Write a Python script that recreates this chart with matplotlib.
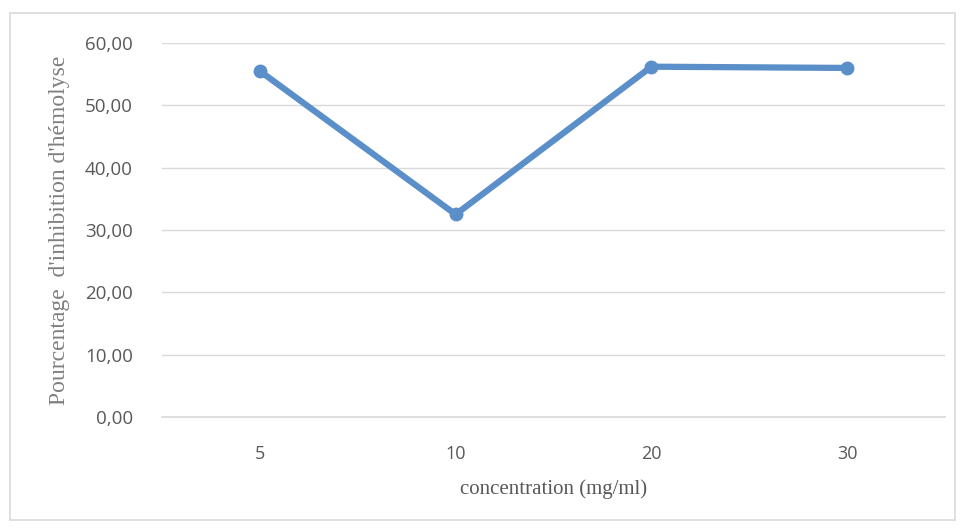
import matplotlib
matplotlib.use("Agg")
import matplotlib.pyplot as plt
from matplotlib.patches import Rectangle

# data
concentrations = ["5", "10", "20", "30"]
inhibition = [55.5, 32.5, 56.2, 56.0]
y_ticks = [0, 10, 20, 30, 40, 50, 60]

fig = plt.figure(figsize=(9.61, 5.28), dpi=100)
fig.patch.set_facecolor("white")

# outer chart frame
fig.patches.append(Rectangle((10 / 961, 1 - 520 / 528), 945 / 961, 507 / 528,
                             transform=fig.transFigure, fill=False,
                             edgecolor="#d9d9d9", linewidth=1.2))

ax = fig.add_axes([162 / 961, 1 - 417 / 528, 783 / 961, 374 / 528])
x = range(len(concentrations))
ax.plot(x, inhibition, color="#5b8fc9", linewidth=4.5, marker="o",
        markersize=9, solid_capstyle="round", solid_joinstyle="round", zorder=3)

ax.set_xlim(-0.5, len(concentrations) - 0.5)
ax.set_ylim(0, 60)
ax.set_yticks(y_ticks)
ax.set_yticklabels([f"{v:.2f}".replace(".", ",") for v in y_ticks],
                   fontsize=13.5, color="#595959", family="Open Sans")
ax.set_xticks(list(x))
ax.set_xticklabels(concentrations, fontsize=13, color="#595959", family="Open Sans")
ax.tick_params(length=0)
ax.tick_params(axis="x", pad=20)
ax.tick_params(axis="y", pad=21)

ax.grid(axis="y", color="#d9d9d9", linewidth=1)
ax.set_axisbelow(True)
for side in ["top", "right", "left"]:
    ax.spines[side].set_visible(False)
ax.spines["bottom"].set_color("#d9d9d9")
ax.spines["bottom"].set_linewidth(1.2)

ax.set_xlabel("concentration (mg/ml)", fontsize=15, color="#595959",
              family="Liberation Serif", labelpad=12)
fig.text(60 / 961, 1 - 230 / 528, "Pourcentage  d'inhibition d'hémolyse",
         rotation=90, ha="center", va="center", fontsize=17,
         color="#7f7f7f", family="Liberation Serif")

fig.savefig("out.png", dpi=100)
